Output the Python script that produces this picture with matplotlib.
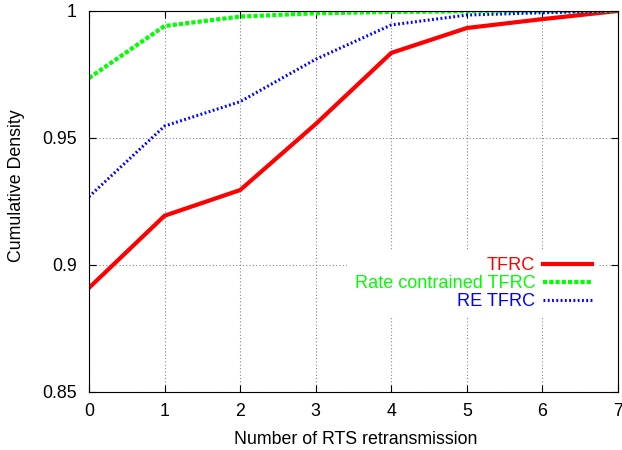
import matplotlib
matplotlib.use("Agg")
import matplotlib.pyplot as plt

plt.rcParams['font.family'] = ['Liberation Sans', 'DejaVu Sans']

retrans = [0, 1, 2, 3, 4, 5, 6, 7]
tfrc = [0.891, 0.9194, 0.9295, 0.9555, 0.9835, 0.9933, 0.9968, 1.0]
rate_tfrc = [0.9736, 0.9941, 0.9978, 0.9991, 0.9996, 0.9999, 1.0, 1.0]
re_tfrc = [0.9269, 0.9547, 0.9643, 0.9810, 0.9945, 0.9984, 0.9993, 1.0]

fs = 12.8

fig = plt.figure(figsize=(6.22, 4.5), dpi=100)
ax = fig.add_axes([0.1431, 0.1289, 0.9936 - 0.1431, 0.9756 - 0.1289])

ax.plot(retrans, tfrc, color='#ff0000', lw=3.0, label='TFRC')
ax.plot(retrans, rate_tfrc, color='#00ff00', lw=3.0, ls=(0, (1.0, 0.5)),
        label='Rate contrained TFRC')
ax.plot(retrans, re_tfrc, color='#0000ff', lw=2.2, ls=(0, (0.6, 0.8)),
        label='RE TFRC')

ax.set_xlim(0, 7)
ax.set_ylim(0.85, 1.0)
ax.set_xticks(retrans)
ax.set_yticks([0.85, 0.9, 0.95, 1.0])
ax.set_yticklabels(['0.85', '0.9', '0.95', '1'])
ax.tick_params(direction='in', top=True, right=True, labelsize=fs, length=5, pad=8)
ax.tick_params(axis='y', pad=9)
ax.grid(True, color='#888888', ls=(0, (1, 2)), lw=0.8)
ax.set_xlabel('Number of RTS retransmission', fontsize=fs)
ax.set_ylabel('Cumulative Density', fontsize=fs)
ax.xaxis.set_label_coords(0.505, -0.102)
ax.yaxis.set_label_coords(-0.121, 0.541)

leg = ax.legend(loc='upper right', bbox_to_anchor=(0.964, 0.373), markerfirst=False,
                frameon=True, framealpha=1, facecolor='white', edgecolor='none',
                fontsize=13.1, handlelength=2.7, handletextpad=0.4,
                labelspacing=0.05, borderpad=0.4, borderaxespad=0, fancybox=False)
for txt, line in zip(leg.get_texts(), leg.get_lines()):
    txt.set_color(line.get_color())

fig.savefig('out.png', dpi=100)
